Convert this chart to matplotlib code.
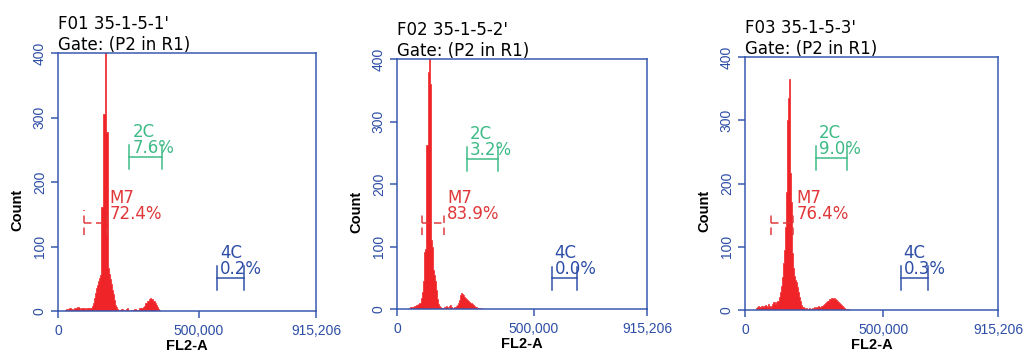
import numpy as np
import matplotlib
matplotlib.use("Agg")
import matplotlib.pyplot as plt

# ---------------- data ----------------
X_MAX = 915206
N_CH = 256

samples = ["F01 35-1-5-1'", "F02 35-1-5-2'", "F03 35-1-5-3'"]
gate_label = "Gate: (P2 in R1)"
x_ticks = [0, 500000, 915206]
x_tick_labels = ["0", "500,000", "915,206"]
y_ticks = [0, 100, 200, 300, 400]

p1_start = 7
p1_counts = [2, 3, 3, 3, 4, 4, 3, 3, 2, 4, 5, 5, 6, 6, 4, 3, 4, 5, 5, 4, 3, 4, 4, 5, 5, 5, 5,
             7, 12, 20, 28, 35, 41, 46, 51, 56, 162, 162, 306, 306, 420, 278, 278, 66, 58, 50,
             42, 33, 26, 17, 10, 6, 3,
             1, 0, 2, 3, 2, 0, 1, 3, 4, 2, 0, 0, 1, 0, 2, 3, 3, 1, 0, 2, 4, 5, 4,
             4, 6, 8, 12, 13, 15, 16, 19, 20, 19, 18, 16, 15, 12, 10, 6, 3, 1]

p2_start = 12
p2_counts = [2, 3, 3, 4, 4, 5, 5, 6, 6, 7, 8, 9,
             10, 18, 28, 45, 92, 96, 262, 262, 380, 420, 360, 111, 100, 62, 55, 45, 30, 16, 8, 5, 3,
             2, 1, 0, 3, 4, 5, 3, 2, 5, 6, 4, 2, 1, 3, 4, 5,
             6, 10, 14, 18, 22, 25, 24, 22, 20, 18, 16, 15, 13, 11, 10, 9, 8, 6, 5, 4,
             3, 2, 2, 1, 0, 2]

p3_start = 11
p3_counts = [3, 5, 6, 4, 5, 7, 6, 5, 6, 8, 6, 5, 10, 7, 5, 6, 9, 12, 13, 10, 12, 14,
             14, 20, 28, 38, 52, 74, 95, 132, 187, 260, 300, 335, 366, 216, 171, 90, 66, 53, 48,
             44, 36, 29, 20, 14, 8, 5,
             4, 3, 2, 3, 1, 2, 3, 2, 1, 3, 2, 4, 3, 5, 4, 6,
             4, 5, 6, 7, 8, 9, 11, 12, 14, 15, 17, 18, 19, 19, 18, 19, 17, 16, 14, 13, 11, 10, 8,
             6, 5, 3, 2,
             2, 1, 1, 0]

hist_starts = [p1_start, p2_start, p3_start]
hist_counts = [p1_counts, p2_counts, p3_counts]

m7_pct = [72.4, 83.9, 76.4]
c2_pct = [7.6, 3.2, 9.0]
c4_pct = [0.2, 0.0, 0.3]

m7_lo = [92200, 90300, 92800]
m7_hi = [172700, 172000, 174700]
m7_y = [137, 138, 138]
c2_lo = [253000, 255000, 255700]
c2_hi = [367800, 368600, 367800]
c2_y = [239, 239.5, 240]
c4_lo = [565000, 566000, 563000]
c4_hi = [661000, 660000, 660800]
c4_y = [51, 49, 50]

# ---------------- style ----------------
W, H = 1023, 354
RED = "#ef2428"
MRED = "#e0383a"
GREEN = "#3dba85"
BLUE = "#3556ad"
TBLUE = "#2d4ea6"
PX = 0.72  # points per pixel at dpi 100

rects = [(58, 311, 258, 258), (397, 309, 250, 250), (745, 310, 253, 253)]

fig = plt.figure(figsize=(W / 100, H / 100), dpi=100)
fig.patch.set_facecolor("white")

edges = np.arange(N_CH + 1) * (X_MAX / N_CH)

for i in range(3):
    left, bottom, w, h = rects[i]
    ax = fig.add_axes([left / W, (H - bottom) / H, w / W, h / H])
    vals = np.zeros(N_CH)
    s = hist_starts[i]
    vals[s:s + len(hist_counts[i])] = hist_counts[i]
    ax.stairs(vals, edges, fill=True, facecolor=RED, edgecolor=RED, linewidth=0.5)
    ax.set_xlim(0, X_MAX)
    ax.set_ylim(0, 400)

    for sp in ax.spines.values():
        sp.set_color(BLUE)
        sp.set_linewidth(1.5 * PX)
        sp.set_zorder(5)
    ax.set_xticks(x_ticks)
    ax.set_xticklabels(x_tick_labels, fontfamily="Liberation Sans", fontsize=10, color=TBLUE)
    ax.set_yticks(y_ticks)
    ax.set_yticklabels([str(v) for v in y_ticks], fontfamily="Liberation Sans", fontsize=10,
                       color=TBLUE, rotation=90, va="center")
    ax.tick_params(axis="both", direction="out", length=7 * PX, width=1.5 * PX, color=BLUE)
    ax.tick_params(axis="x", pad=4)
    ax.tick_params(axis="y", pad=3)

    # titles
    ax.annotate(samples[i], xy=(0, 1), xycoords="axes fraction", xytext=(0, 29 * PX),
                textcoords="offset points", ha="left", va="center",
                fontfamily="DejaVu Sans", fontsize=12, color="black")
    ax.annotate(gate_label, xy=(0, 1), xycoords="axes fraction", xytext=(0, 8 * PX),
                textcoords="offset points", ha="left", va="center",
                fontfamily="DejaVu Sans", fontsize=12, color="black")

    # axis labels
    ax.text(-40.5 / w, 0.39, "Count", transform=ax.transAxes, rotation=90,
            ha="center", va="center", fontfamily="Liberation Sans", fontweight="bold",
            fontsize=10.5, color="black")
    ax.text(0.5, -35 / h, "FL2-A", transform=ax.transAxes,
            ha="center", va="center", fontfamily="Liberation Sans", fontweight="bold",
            fontsize=10.5, color="black")

    # markers
    def marker(lo, hi, y, color, ls, name, pct, text_x):
        half = 19
        ax.plot([lo, hi], [y, y], color=color, lw=1.5 * PX, ls=ls, clip_on=False)
        ax.plot([lo, lo], [y - half, y + half], color=color, lw=1.5 * PX, ls=ls, clip_on=False)
        ax.plot([hi, hi], [y - half, y + half], color=color, lw=1.5 * PX, ls=ls, clip_on=False)
        ax.annotate(name, xy=(text_x, y), xycoords="data", xytext=(3 * PX, 20 * PX),
                    textcoords="offset points", ha="left", va="baseline",
                    fontfamily="DejaVu Sans", fontsize=12, color=color)
        ax.annotate(f"{pct:.1f}%", xy=(text_x, y), xycoords="data", xytext=(3 * PX, 4 * PX),
                    textcoords="offset points", ha="left", va="baseline",
                    fontfamily="DejaVu Sans", fontsize=12, color=color)

    marker(m7_lo[i], m7_hi[i], m7_y[i], MRED, (0, (5, 3)), "M7", m7_pct[i], m7_hi[i])
    marker(c2_lo[i], c2_hi[i], c2_y[i], GREEN, "-", "2C", c2_pct[i], c2_lo[i])
    marker(c4_lo[i], c4_hi[i], c4_y[i], TBLUE, "-", "4C", c4_pct[i], c4_lo[i])

fig.savefig("out.png", dpi=100, facecolor="white")
